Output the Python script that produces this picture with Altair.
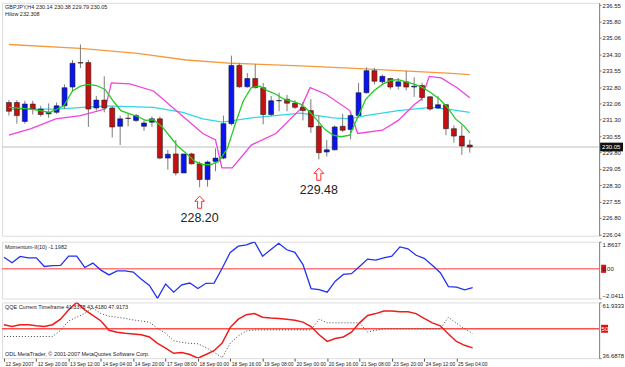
import altair as alt
import pandas as pd

# ---------------- data ----------------
bar_open = [232.09, 232.09, 231.22, 232.02, 231.79, 231.57, 231.64, 231.94, 232.80, 233.92,
            233.92, 231.84, 232.20, 231.84, 231.00, 231.37, 231.27, 231.00, 231.19, 231.34,
            229.54, 229.73, 228.86, 229.73, 229.28, 228.56, 229.39, 229.54, 231.12, 233.79,
            232.81, 233.19, 232.77, 231.54, 232.17, 232.24, 232.06, 231.87, 231.72, 231.00,
            229.82, 229.92, 231.00, 230.85, 231.49, 232.54, 233.55, 233.04, 233.19, 232.84,
            233.04, 232.80, 232.87, 232.35, 231.84, 231.99, 230.89, 230.55, 230.14]
bar_high = [232.20, 232.20, 232.17, 232.17, 231.94, 232.05, 232.09, 232.92, 234.04, 234.75,
            234.04, 232.39, 233.29, 231.94, 231.49, 231.57, 231.57, 231.27, 231.45, 231.45,
            229.92, 230.37, 229.73, 229.79, 229.39, 229.43, 229.99, 231.49, 234.24, 233.89,
            233.44, 233.85, 232.99, 232.39, 232.54, 232.44, 232.20, 232.12, 232.24, 231.49,
            230.37, 231.04, 231.57, 231.57, 232.99, 233.70, 233.67, 233.37, 233.22, 233.22,
            233.55, 233.25, 232.99, 232.39, 232.39, 232.02, 231.04, 231.04, 230.38]
bar_low = [231.49, 231.12, 231.12, 231.54, 231.45, 231.39, 231.57, 231.79, 232.62, 233.67,
           230.97, 231.72, 231.64, 230.49, 230.14, 231.00, 231.19, 230.79, 230.97, 229.49,
           229.01, 228.74, 228.86, 229.24, 228.20, 228.23, 228.94, 229.49, 231.04, 232.77,
           232.77, 232.74, 231.09, 231.45, 231.69, 231.69, 231.79, 231.27, 230.70, 229.48,
           229.61, 229.89, 230.74, 230.40, 231.39, 232.50, 232.92, 232.92, 232.69, 232.69,
           232.65, 232.35, 232.17, 231.72, 231.79, 230.59, 230.25, 229.69, 229.79]
bar_close = [231.69, 231.49, 232.02, 231.79, 231.54, 231.64, 231.94, 232.77, 233.89, 233.90,
             231.79, 232.20, 231.84, 230.97, 231.34, 231.36, 231.49, 231.15, 231.34, 229.54,
             229.72, 228.86, 229.73, 229.28, 228.56, 229.36, 229.54, 231.12, 233.79, 232.81,
             233.19, 232.77, 231.54, 232.17, 232.18, 232.06, 231.87, 231.72, 230.97, 229.79,
             229.92, 230.97, 230.82, 231.49, 232.54, 233.55, 233.07, 233.29, 232.80, 233.04,
             232.80, 232.84, 232.32, 231.79, 231.99, 230.89, 230.55, 230.10, 230.05]

orange_x = [0, 9.0, 16.2, 22.3, 28.1, 36.7, 42.9, 49.0, 55.2, 58.0]
orange_y = [234.75, 234.57, 234.34, 234.04, 233.89, 233.77, 233.67, 233.55, 233.44, 233.37]

cyan_x = [0, 6.0, 12.1, 18.2, 21.9, 24.4, 26.9, 30.5, 36.7, 40.8, 42.9, 44.9, 49.0, 53.1, 55.2, 58.0]
cyan_y = [231.79, 231.79, 231.94, 231.87, 231.64, 231.34, 231.19, 231.39, 231.60, 231.39,
          231.34, 231.49, 231.72, 231.87, 231.79, 231.64]

magenta_x = [0, 2.8, 5.9, 9.0, 12.1, 12.9, 15.2, 18.2, 21.3, 24.4, 26.0, 26.8, 28.1, 30.5,
             33.6, 36.7, 37.9, 39.9, 42.9, 43.9, 47.0, 49.0, 51.1, 51.9, 52.9, 54.4, 56.4, 58.0]
magenta_y = [230.59, 230.89, 231.34, 231.49, 231.79, 232.99, 232.95, 232.62, 231.64, 230.67,
             230.37, 229.09, 229.09, 230.14, 230.67, 231.80, 232.77, 232.47, 231.72, 230.67,
             230.82, 231.27, 232.02, 232.24, 233.29, 233.22, 232.77, 232.31]

green_x = [0, 2.8, 3.9, 5.1, 5.9, 6.9, 8.0, 9.0, 10.0, 11.0, 12.1, 13.1, 14.1, 15.2, 16.2,
           17.2, 18.2, 19.3, 20.3, 21.3, 22.3, 23.4, 24.4, 25.4, 26.4, 27.5, 28.5, 29.5, 30.5,
           31.6, 32.6, 33.6, 34.6, 35.7, 36.7, 37.7, 38.8, 39.8, 40.8, 41.8, 42.9, 43.9, 44.9,
           45.9, 47.0, 48.0, 49.0, 50.0, 51.1, 52.1, 53.1, 54.2, 55.2, 56.2, 57.2, 58.0]
green_y = [231.87, 231.79, 231.72, 231.64, 231.76, 231.94, 232.62, 232.84, 232.92, 232.87,
           232.69, 232.17, 231.72, 231.57, 231.45, 231.27, 231.30, 230.97, 230.52, 230.07,
           229.76, 229.39, 229.24, 229.24, 229.39, 229.99, 231.12, 232.17, 232.77, 232.84,
           232.62, 232.47, 232.24, 232.14, 232.02, 231.72, 231.27, 230.85, 230.59, 230.52,
           230.59, 231.42, 232.24, 232.62, 232.92, 233.10, 233.14, 233.04, 232.92, 232.77,
           232.54, 232.24, 231.87, 231.34, 231.04, 230.70]

momentum = [0.80, 0.42, 0.85, 0.75, 0.75, 0.16, 0.22, 0.24, 0.87, 0.87,
            0.09, 0.39, -0.09, -0.42, -0.14, -0.14, -0.22, -0.72, -1.15, -2.04,
            -1.05, -1.61, -1.10, -0.98, -1.36, -1.00, -0.98, 0.04, 1.13, 1.56,
            1.64, 1.86, 0.87, 1.31, 1.76, 1.31, 1.13, 0.29, -1.36, -1.43,
            -1.61, -0.85, -0.39, -0.34, 0.16, 0.67, 0.60, 0.75, 0.87, 1.51,
            1.38, 0.93, 0.72, 0.24, -0.27, -1.23, -1.26, -1.45, -1.30]

qqe_main = [51.83, 50.99, 51.83, 51.83, 51.33, 50.99, 51.83, 54.36, 58.56, 61.93,
            58.56, 56.04, 53.52, 49.31, 48.47, 47.96, 47.62, 47.29, 46.28, 43.42,
            41.23, 38.87, 39.21, 38.37, 36.69, 38.37, 40.05, 43.50, 50.65, 54.36,
            56.38, 56.88, 55.20, 54.86, 54.69, 54.36, 53.85, 53.01, 50.99, 47.29,
            44.26, 45.60, 46.28, 48.47, 52.67, 56.04, 56.88, 58.06, 58.06, 57.72,
            57.72, 56.88, 54.69, 52.67, 51.33, 47.62, 44.26, 42.50, 41.34]
qqe_signal = [46.5, 46.5, 46.5, 46.5, 46.5, 46.5, 46.5, 49.31, 53.52, 55.20,
              57.0, 59.4, 56.88, 55.7, 55.2, 54.7, 54.0, 53.5, 53.0, 50.2,
              48.0, 44.6, 43.8, 43.4, 43.2, 41.5, 39.4, 36.9, 43.5, 46.8,
              49.0, 49.5, 49.5, 49.5, 49.5, 49.5, 49.5, 49.5, 49.5, 54.4,
              52.7, 52.7, 52.7, 52.7, 52.7, 48.5, 49.3, 50.0, 50.0, 50.0,
              50.0, 50.0, 50.0, 50.0, 50.0, 55.2, 52.5, 50.0, 47.9]

time_labels = ["12 Sep 2007", "12 Sep 20:00", "13 Sep 12:00", "14 Sep 04:00", "14 Sep 20:00",
               "17 Sep 08:00", "18 Sep 00:00", "18 Sep 16:00", "19 Sep 08:00", "20 Sep 00:00",
               "20 Sep 16:00", "21 Sep 08:00", "23 Sep 20:00", "24 Sep 12:00", "25 Sep 04:00"]
price_ticks = [236.55, 235.80, 235.06, 234.30, 233.55, 232.80, 232.06, 231.30, 230.55,
               229.80, 229.05, 228.30, 227.55, 226.80, 226.04]
mom_ticks = [1.8637, -2.0411]
qqe_ticks = [61.9333, 36.6878]
last_close = 230.05
ann_bar = [24, 39]
ann_low = [228.20, 229.48]

main_title = "GBPJPY,H4  230.14 230.38 229.79 230.05"
hilow_title = "Hilow 232.308"
mom_title = "Momentum-II(10) -1.1982"
qqe_title = "QQE Current Timeframe 41.3378 43.4180 47.9173"
copyright_text = "ODL MetaTrader, \u00a9 2001-2007 MetaQuotes Software Corp."

# ---------------- layout ----------------
W = 600
H_MAIN, H_MOM, H_QQE = 234, 57, 56
FONT = "Liberation Sans"
xsc = alt.Scale(domain=[-0.246, 73.65], nice=False, zero=False)
ARROW = "M0,-1L0.8,-0.15L0.34,-0.15L0.34,1L-0.34,1L-0.34,-0.15L-0.8,-0.15Z"

def yaxis(values, fmt):
    return alt.Axis(orient="right", values=values, format=fmt, title=None, grid=False,
                    tickSize=2, labelPadding=1, labelFontSize=6, labelFont=FONT,
                    labelColor="#222222", domainColor="#808080", tickColor="#808080",
                    labelFlush=True, labelOverlap=False, labelBound=False)

def const_text(txt, x, y, size=5.5, baseline="top"):
    return alt.Chart(pd.DataFrame({"t": [txt]})).mark_text(
        align="left", baseline=baseline, fontSize=size, font=FONT, color="#222222"
    ).encode(x=alt.value(x), y=alt.value(y), text="t:N")

# ---- main price panel ----
ysc = alt.Scale(domain=[225.98, 236.66], nice=False, zero=False)
yax = yaxis(price_ticks, ".2f")

ohlc = pd.DataFrame({"i": list(range(len(bar_open))), "open": bar_open, "high": bar_high,
                     "low": bar_low, "close": bar_close})
ohlc["dir"] = ["up" if c >= o else "down" for o, c in zip(bar_open, bar_close)]

xi = alt.X("i:Q", scale=xsc, axis=None, title=None)

wicks = alt.Chart(ohlc).mark_rule(color="#7a7a7a", strokeWidth=1, clip=True).encode(
    x=xi, y=alt.Y("low:Q", scale=ysc, axis=yax, title=None), y2="high:Q")
bodies = alt.Chart(ohlc).mark_bar(size=5, stroke="#222222", strokeWidth=0.6, clip=True).encode(
    x=xi, y=alt.Y("open:Q", scale=ysc, axis=yax, title=None), y2="close:Q",
    color=alt.Color("dir:N", scale=alt.Scale(domain=["up", "down"], range=["#0a14f0", "#c41010"]),
                    legend=None))

def line_layer(xs, ys, color, width=1.3):
    df = pd.DataFrame({"x": xs, "y": ys})
    return alt.Chart(df).mark_line(color=color, strokeWidth=width, clip=True).encode(
        x=alt.X("x:Q", scale=xsc, axis=None, title=None),
        y=alt.Y("y:Q", scale=ysc, axis=yax, title=None))

orange = line_layer(orange_x, orange_y, "#f59a3c")
cyan = line_layer(cyan_x, cyan_y, "#33d6e6")
magenta = line_layer(magenta_x, magenta_y, "#ee44dd")
green = line_layer(green_x, green_y, "#22cc22")

price_df = pd.DataFrame({"p": [last_close]})
price_rule = alt.Chart(price_df).mark_rule(color="#bdbdbd", strokeWidth=1).encode(
    y=alt.Y("p:Q", scale=ysc, axis=yax, title=None))
price_box = alt.Chart(price_df).transform_calculate(
    top="datum.p + 0.2", bot="datum.p - 0.2"
).mark_rect(color="#111111").encode(
    x=alt.value(W + 1), x2=alt.value(W + 24),
    y=alt.Y("top:Q", scale=ysc, axis=yax, title=None), y2="bot:Q")
price_txt = alt.Chart(price_df).mark_text(
    align="left", baseline="middle", fontSize=6, font=FONT, color="white"
).encode(x=alt.value(W + 3), y=alt.Y("p:Q", scale=ysc, axis=yax, title=None),
         text=alt.Text("p:Q", format=".2f"))

ann_df = pd.DataFrame({"i": ann_bar, "low": ann_low})
arrows = alt.Chart(ann_df).transform_calculate(
    ay="datum.low - 0.68"
).mark_point(shape=ARROW, size=150, filled=False, fill="white", fillOpacity=1,
             stroke="#ff2a2a", strokeWidth=1, opacity=1).encode(
    x=xi, y=alt.Y("ay:Q", scale=ysc, axis=yax, title=None))
ann_txt = alt.Chart(ann_df).mark_text(
    fontSize=12.5, font=FONT, color="#222222", dy=31
).encode(x=xi, y=alt.Y("low:Q", scale=ysc, axis=yax, title=None),
         text=alt.Text("low:Q", format=".2f"))

main = alt.layer(
    price_rule, orange, cyan, magenta, wicks, bodies, green, arrows, ann_txt,
    price_box, price_txt,
    const_text(main_title, 3, 2), const_text(hilow_title, 3, 9)
).properties(width=W, height=H_MAIN)

# ---- momentum panel ----
msc = alt.Scale(domain=[-2.0411, 1.8637], nice=False, zero=False)
max_ = yaxis(mom_ticks, ".4f")
mom_df = pd.DataFrame({"i": list(range(len(momentum))), "v": momentum})
zero_df = pd.DataFrame({"v": [0.0]})
mom_zero = alt.Chart(zero_df).mark_rule(color="#ff7a7a", strokeWidth=1.5).encode(
    y=alt.Y("v:Q", scale=msc, axis=max_, title=None))
mom_line = alt.Chart(mom_df).mark_line(color="#2233ee", strokeWidth=1.3, clip=True).encode(
    x=xi, y=alt.Y("v:Q", scale=msc, axis=max_, title=None))
mom_box = alt.Chart(zero_df).transform_calculate(
    top="datum.v + 0.28", bot="datum.v - 0.28"
).mark_rect(color="#e01010").encode(
    x=alt.value(W + 2), x2=alt.value(W + 7),
    y=alt.Y("top:Q", scale=msc, axis=max_, title=None), y2="bot:Q")
mom_lab = alt.Chart(zero_df).mark_text(
    align="left", baseline="middle", fontSize=6, font=FONT, color="#222222"
).encode(x=alt.value(W + 3), y=alt.Y("v:Q", scale=msc, axis=max_, title=None),
         text=alt.Text("v:Q", format=".2f"))
mom = alt.layer(mom_zero, mom_line, mom_box, mom_lab, const_text(mom_title, 3, 3)).properties(
    width=W, height=H_MOM)

# ---- QQE panel ----
qsc = alt.Scale(domain=[36.6878, 61.9333], nice=False, zero=False)
qax = yaxis(qqe_ticks, ".4f")
label_expr = "[" + ",".join("'" + s + "'" for s in time_labels) + "][round(datum.value / 4)]"
xax = alt.Axis(values=list(range(0, 4 * len(time_labels), 4)), labelExpr=label_expr,
               labelAlign="left", labelOffset=1, labelPadding=0, tickSize=3,
               labelFontSize=5, labelFont=FONT, labelColor="#222222", domain=False,
               tickColor="#555555", grid=False, labelOverlap=False, labelFlush=False,
               labelBound=False, title=None)
qqe_df = pd.DataFrame({"i": list(range(len(qqe_main))), "q": qqe_main, "s": qqe_signal})
fifty_df = pd.DataFrame({"v": [50.0]})
qqe_fifty = alt.Chart(fifty_df).mark_rule(color="#ff5050", strokeWidth=1.5).encode(
    y=alt.Y("v:Q", scale=qsc, axis=qax, title=None))
qqe_sig = alt.Chart(qqe_df).mark_line(color="#444444", strokeWidth=1, strokeDash=[1, 2],
                                      clip=True).encode(
    x=alt.X("i:Q", scale=xsc, axis=xax, title=None),
    y=alt.Y("s:Q", scale=qsc, axis=qax, title=None))
qqe_line = alt.Chart(qqe_df).mark_line(color="#ee1c1c", strokeWidth=1.5, clip=True).encode(
    x=alt.X("i:Q", scale=xsc, axis=xax, title=None),
    y=alt.Y("q:Q", scale=qsc, axis=qax, title=None))
qqe_box = alt.Chart(fifty_df).transform_calculate(
    top="datum.v + 1.8", bot="datum.v - 1.8"
).mark_rect(color="#e01010").encode(
    x=alt.value(W + 2), x2=alt.value(W + 9),
    y=alt.Y("top:Q", scale=qsc, axis=qax, title=None), y2="bot:Q")
qqe_lab = alt.Chart(fifty_df).mark_text(
    align="left", baseline="middle", fontSize=6, font=FONT, color="white"
).encode(x=alt.value(W + 2.5), y=alt.Y("v:Q", scale=qsc, axis=qax, title=None),
         text=alt.Text("v:Q", format=".0f"))
qqe = alt.layer(
    qqe_fifty, qqe_sig, qqe_line, qqe_box, qqe_lab,
    const_text(qqe_title, 3, 3), const_text(copyright_text, 3, H_QQE - 1, baseline="bottom")
).properties(width=W, height=H_QQE)

chart = alt.vconcat(main, mom, qqe, spacing=2).properties(
    padding={"left": 0, "top": 0, "right": 0, "bottom": 0}
).configure_view(stroke="#7a7a7a", strokeWidth=1.2).configure(background="white")

chart.save("out.html", embed_options={"renderer": "svg", "actions": False})
